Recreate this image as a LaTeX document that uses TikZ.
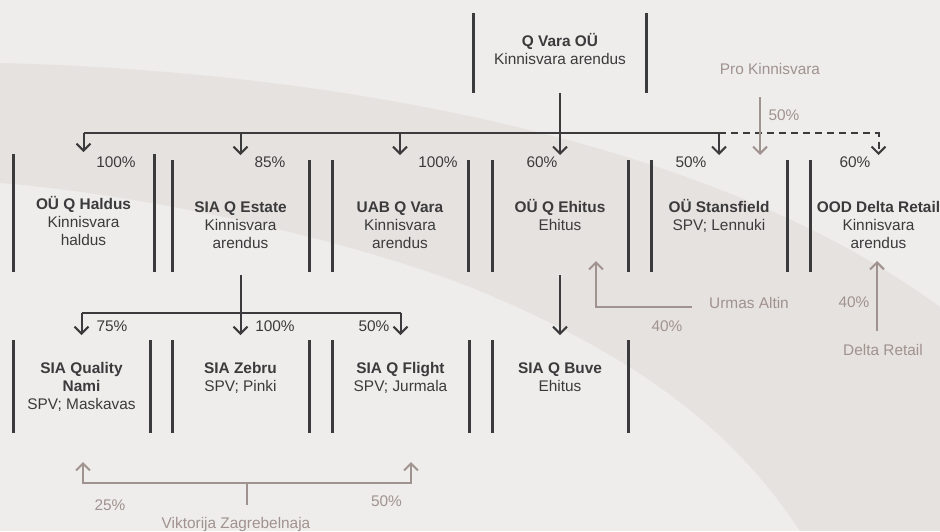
\documentclass[tikz,border=0pt]{standalone}
\usepackage{fontspec}
\setmainfont{Liberation Sans}
\usetikzlibrary{arrows.meta}
\definecolor{bgl}{HTML}{EEEDEB}
\definecolor{bgd}{HTML}{E6E2DF}
\definecolor{ink}{HTML}{3B3A3C}
\definecolor{taupe}{HTML}{A0928F}
\newcommand{\fs}{\fontsize{15.4}{18}\selectfont}
\newcommand{\rs}{\rule{0pt}{15pt}}
\begin{document}
\begin{tikzpicture}[x=1pt,y=-1pt,
  orgbox/.style={inner sep=0pt,outer sep=0pt},
  bar/.style={line width=3pt,draw=ink},
  conn/.style={line width=2pt,draw=ink},
  gline/.style={line width=2pt,draw=taupe},
  tip/.style={-{Straight Barb[length=7pt,width=14pt]}},
  dashpat/.style={dash pattern=on 7pt off 5pt},
  lbl/.style={anchor=north,inner sep=0pt,align=center,font=\fs,text=ink},
  pct/.style={anchor=base,inner sep=0pt,font=\fs,text=ink},
  gpct/.style={pct,text=taupe}]
\useasboundingbox (0,0) rectangle (940,531);
% background
\fill[bgl] (0,0) rectangle (940,531);
\fill[bgd] (0,63) .. controls (300,70) and (700,130) .. (940,307) -- (940,531) -- (800,531)
  .. controls (740,440) and (650,360) .. (470,287) .. controls (350,240) and (150,195) .. (0,183) -- cycle;
% boxes
\node[orgbox,minimum width=173,minimum height=80] (qvara) at (560,53) {};
\node[orgbox,minimum width=141,minimum height=118] (haldus) at (83.5,213) {};
\node[orgbox,minimum width=137,minimum height=112] (estate) at (240.5,216) {};
\node[orgbox,minimum width=136,minimum height=112] (uab) at (400,216) {};
\node[orgbox,minimum width=136,minimum height=112] (ehitus) at (560,216) {};
\node[orgbox,minimum width=136,minimum height=112] (stans) at (719,216) {};
\node[orgbox,minimum width=137,minimum height=112] (delta) at (878.5,216) {};
\node[orgbox,minimum width=137,minimum height=93] (nami) at (81.5,386.5) {};
\node[orgbox,minimum width=137,minimum height=93] (zebru) at (240.5,386.5) {};
\node[orgbox,minimum width=137,minimum height=93] (flight) at (400.5,386.5) {};
\node[orgbox,minimum width=136,minimum height=93] (buve) at (560,386.5) {};
\foreach \b in {qvara,haldus,estate,uab,ehitus,stans,delta,nami,zebru,flight,buve}
  \draw[bar] (\b.north west) -- (\b.south west) (\b.north east) -- (\b.south east);
% box texts
\node[lbl] (qvaraT) at (560,31) {\rs\textbf{Q Vara OÜ}\\Kinnisvara arendus};
\node[lbl] (haldusT) at (83.5,194) {\rs\textbf{OÜ Q Haldus}\\Kinnisvara\\haldus};
\node[lbl] (estateT) at (240.5,197) {\rs\textbf{SIA Q Estate}\\Kinnisvara\\arendus};
\node[lbl] (uabT) at (400,197) {\rs\textbf{UAB Q Vara}\\Kinnisvara\\arendus};
\node[lbl] (ehitusT) at (560,197) {\rs\textbf{OÜ Q Ehitus}\\Ehitus};
\node[lbl] (stansT) at (719,197) {\rs\textbf{OÜ Stansfield}\\SPV; Lennuki};
\node[lbl] (deltaT) at (878.5,197) {\rs\textbf{OOD Delta Retail}\\Kinnisvara\\arendus};
\node[lbl] (namiT) at (81.5,358) {\rs\textbf{SIA Quality}\\\textbf{Nami}\\SPV; Maskavas};
\node[lbl] (zebruT) at (240.5,358) {\rs\textbf{SIA Zebru}\\SPV; Pinki};
\node[lbl] (flightT) at (400.5,358) {\rs\textbf{SIA Q Flight}\\SPV; Jurmala};
\node[lbl] (buveT) at (560,358) {\rs\textbf{SIA Q Buve}\\Ehitus};
% top level connectors
\coordinate (bus) at (560,133);
\draw[conn] (haldus.north |- bus) -- (stans.north |- bus);
\draw[conn,dashpat,tip,shorten >=5pt] (stans.north |- bus) -- (delta.north |- bus) -- (delta.north);
\draw[conn,tip,shorten >=2pt] (haldus.north |- bus) -- (haldus.north);
\foreach \n in {estate,uab,stans}
  \draw[conn,tip,shorten >=5pt] (\n.north |- bus) -- (\n.north);
\draw[conn,tip,shorten >=5pt] (qvara.south) -- (ehitus.north);
% second level connectors
\coordinate (bus2) at (240.5,313);
\draw[conn,tip,shorten <=3pt,shorten >=5pt] (estate.south) -- (zebru.north);
\draw[conn] (nami.north |- bus2) -- (flight.north |- bus2);
\draw[conn,tip,shorten >=5pt] (nami.north |- bus2) -- (nami.north);
\draw[conn,tip,shorten >=5pt] (flight.north |- bus2) -- (flight.north);
\draw[conn,tip,shorten <=3pt,shorten >=5pt] (ehitus.south) -- (buve.north);
% percentages
\node[pct] (p1) at (116,167) {100\%};
\node[pct] (p2) at (270,167) {85\%};
\node[pct] (p3) at (438,167) {100\%};
\node[pct] (p4) at (542,167) {60\%};
\node[pct] (p5) at (691,167) {50\%};
\node[pct] (p6) at (855,167) {60\%};
\node[pct] (p7) at (112,331.5) {75\%};
\node[pct] (p8) at (275,331.5) {100\%};
\node[pct] (p9) at (374,331.5) {50\%};
% outside owners
\node[gpct] (pro) at (770,74) {Pro Kinnisvara};
\node[gpct] (pro50) at (784,120.5) {50\%};
\coordinate (proS) at (760,97);
\draw[gline,tip,shorten >=5pt] (proS) -- (proS |- stans.north);
\node[gpct] (urmas) at (749,308) {Urmas Altin};
\node[gpct] (u40) at (667,331) {40\%};
\coordinate (uS) at (692,307);
\coordinate (uC) at (596,307);
\coordinate (uT) at (596,261);
\draw[gline,tip] (uS) -- (uC) -- (uT);
\node[gpct] (dr) at (883,355) {Delta Retail};
\node[gpct] (d40) at (854,307.5) {40\%};
\coordinate (dS) at (877,331);
\coordinate (dT) at (877,261);
\draw[gline,tip] (dS) -- (dT);
\node[gpct] (vik) at (236,528) {Viktorija Zagrebelnaja};
\node[gpct] (v25) at (110,510) {25\%};
\node[gpct] (v50) at (386.5,506.5) {50\%};
\coordinate (vS) at (247,505);
\coordinate (vB) at (247,483);
\coordinate (vL) at (83,483);
\coordinate (vR) at (411,483);
\coordinate (vLT) at (83,462);
\coordinate (vRT) at (411,462);
\draw[gline] (vS) -- (vB);
\draw[gline,tip] (vB) -- (vL) -- (vLT);
\draw[gline,tip] (vB) -- (vR) -- (vRT);
\end{tikzpicture}
\end{document}
